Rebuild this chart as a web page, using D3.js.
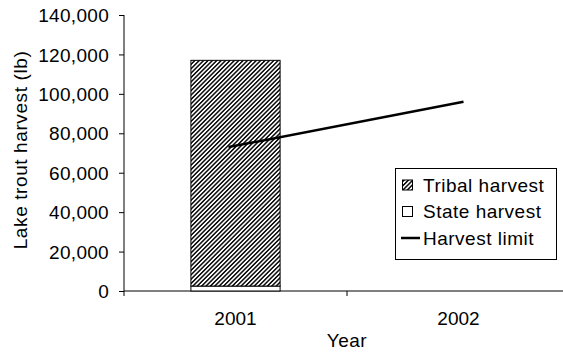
<!DOCTYPE html>
<html><head><meta charset="utf-8">
<script src="https://cdn.jsdelivr.net/npm/d3@7"></script>
<style>body{margin:0;background:#fff}text{font-family:"Liberation Sans",Arial,sans-serif;fill:#000}</style>
</head><body>
<script>
const years = ["2001", "2002"];
const tribalHarvest = [114500, null];
const stateHarvest = [2500, null];
const harvestLimit = [73000, 96000];
const yTicks = [0, 20000, 40000, 60000, 80000, 100000, 120000, 140000];
const legendLabels = ["Tribal harvest", "State harvest", "Harvest limit"];

const W = 563, H = 354;
const svg = d3.select("body").append("svg").attr("width", W).attr("height", H);
const defs = svg.append("defs");
const pat = defs.append("pattern").attr("id", "hatch").attr("patternUnits", "userSpaceOnUse")
  .attr("width", 3.1).attr("height", 10).attr("patternTransform", "rotate(45)");
pat.append("rect").attr("width", 3.1).attr("height", 10).attr("fill", "#fff");
pat.append("rect").attr("width", 1.55).attr("height", 10).attr("fill", "#111");

const x = d3.scaleBand().domain(years).range([124, 570]);
const y = d3.scaleLinear().domain([0, 140000]).range([291, 15]);
const bw = x.bandwidth();
const fs = 19;

// y axis
const yAxis = svg.append("g").attr("transform", "translate(124,0)")
  .call(d3.axisLeft(y).tickValues(yTicks).tickSize(5).tickPadding(10).tickFormat(d3.format(",")));
yAxis.select(".domain").attr("stroke", "#000").attr("d", "M0,15V291");
yAxis.selectAll("text").attr("font-size", fs).attr("font-family", "Liberation Sans, Arial").attr("dy", "0.35em").attr("letter-spacing", 0.3);
yAxis.selectAll("line").attr("stroke", "#000");

// x axis
const xAxis = svg.append("g").attr("transform", "translate(0,291)")
  .call(d3.axisBottom(x).tickSize(0).tickPadding(0));
xAxis.select(".domain").attr("stroke", "#000").attr("d", "M124,0H570");
xAxis.selectAll("text").attr("font-size", fs).attr("font-family", "Liberation Sans, Arial").attr("y", 34).attr("dy", 0);
xAxis.selectAll(".tick line").remove();
const edges = [x.range()[0], ...years.slice(1).map(d => x(d)), x.range()[1]];
xAxis.selectAll("line.edge").data(edges).enter().append("line").attr("class", "edge")
  .attr("x1", d => d).attr("x2", d => d).attr("y1", 0).attr("y2", 5).attr("stroke", "#000");

// bars
const barW = bw * 0.4;
years.forEach((yr, i) => {
  if (stateHarvest[i] == null) return;
  const bx = x(yr) + (bw - barW) / 2;
  svg.append("rect").attr("x", bx).attr("width", barW)
    .attr("y", y(stateHarvest[i])).attr("height", y(0) - y(stateHarvest[i]))
    .attr("fill", "#fff").attr("stroke", "#000").attr("stroke-width", 1);
  const top = stateHarvest[i] + tribalHarvest[i];
  svg.append("rect").attr("x", bx).attr("width", barW)
    .attr("y", y(top)).attr("height", y(stateHarvest[i]) - y(top))
    .attr("fill", "url(#hatch)").attr("stroke", "#000").attr("stroke-width", 1);
});

// line
const line = d3.line().x((d, i) => x(years[i]) + bw / 2 - 7 + i * 12).y(d => y(d));
svg.append("path").datum(harvestLimit).attr("d", line).attr("fill", "none")
  .attr("stroke", "#000").attr("stroke-width", 2.5);

// axis titles
svg.append("text").attr("x", 347).attr("y", 347).attr("text-anchor", "middle").attr("font-size", fs)
  .attr("letter-spacing", 0.5).text("Year");
svg.append("text").attr("transform", "translate(27,150) rotate(-90)").attr("text-anchor", "middle")
  .attr("font-size", fs).attr("letter-spacing", 0.6).text("Lake trout harvest (lb)");

// legend
const lg = svg.append("g");
lg.append("rect").attr("x", 395.5).attr("y", 168.5).attr("width", 161).attr("height", 91)
  .attr("fill", "#fff").attr("stroke", "#000");
const rowY = [185, 211.5, 238];
lg.append("rect").attr("x", 402.5).attr("y", rowY[0] - 5).attr("width", 10).attr("height", 10)
  .attr("fill", "url(#hatch)").attr("stroke", "#000");
lg.append("rect").attr("x", 402.5).attr("y", rowY[1] - 5).attr("width", 10).attr("height", 10)
  .attr("fill", "#fff").attr("stroke", "#000");
lg.append("line").attr("x1", 401).attr("x2", 420).attr("y1", rowY[2]).attr("y2", rowY[2])
  .attr("stroke", "#000").attr("stroke-width", 2.5);
legendLabels.forEach((t, i) => {
  lg.append("text").attr("x", 423).attr("y", rowY[i]).attr("dy", "0.35em").attr("font-size", fs)
    .attr("letter-spacing", 0.5).text(t);
});
</script>
</body></html>
